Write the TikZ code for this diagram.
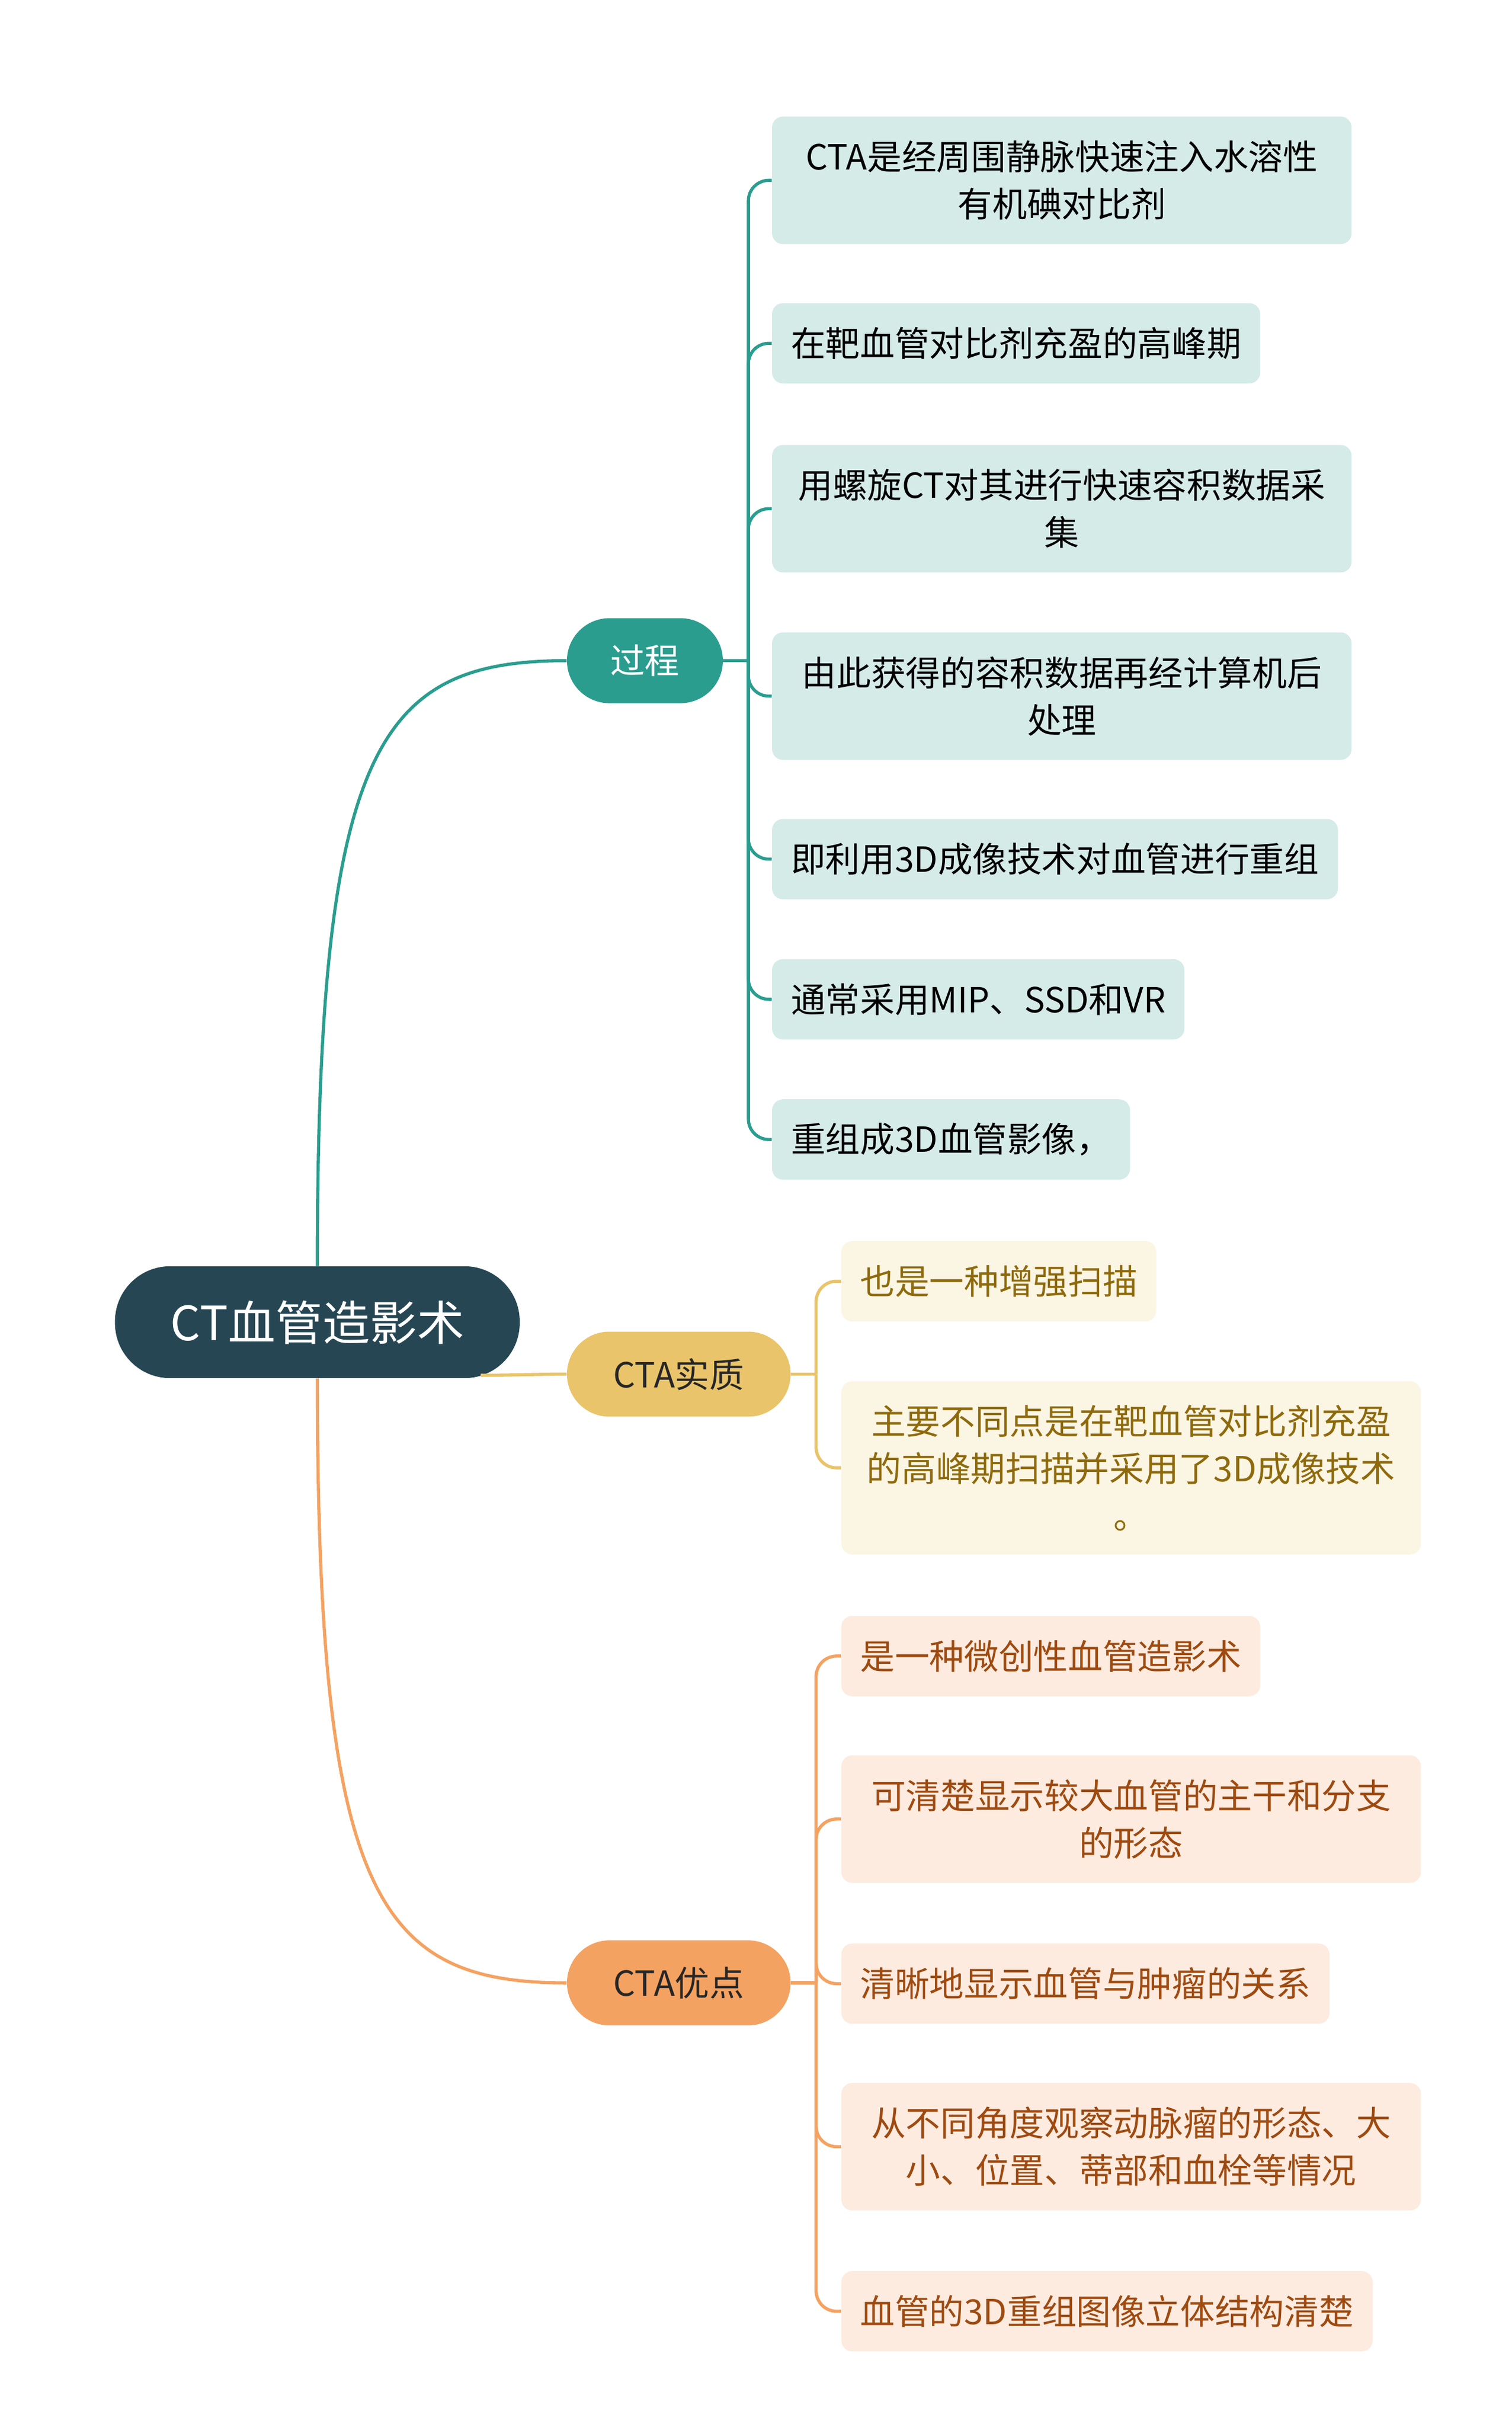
\documentclass[tikz,border=0pt]{standalone}
\usepackage{fontspec}
\setmainfont{Noto Sans CJK SC}
\definecolor{rootc}{HTML}{264653}
\definecolor{tealc}{HTML}{2A9D8F}
\definecolor{ylwc}{HTML}{E9C46A}
\definecolor{orgc}{HTML}{F4A261}
\definecolor{tealbg}{HTML}{D5EBE8}
\definecolor{ylwbg}{HTML}{FBF5E3}
\definecolor{orgbg}{HTML}{FDEBDF}
\definecolor{ylwtx}{HTML}{8E6A0C}
\definecolor{orgtx}{HTML}{9E4A10}
\tikzset{
  topic/.style={rounded corners=27pt,minimum height=54pt,font=\fontsize{22}{30}\selectfont},
  leaf/.style={anchor=west,rounded corners=7pt,inner xsep=12pt,minimum height=51pt,align=center,font=\fontsize{22}{30}\selectfont},
  wide/.style={text width=344pt,inner xsep=12pt},
  link/.style={line width=2pt}
}
\begin{document}
\begin{tikzpicture}[x=1pt,y=-1pt]
  \useasboundingbox (0,0) rectangle (960,1541);

  \node[fill=rootc,text=white,rounded corners=35pt,minimum width=257pt,minimum height=71pt,font=\fontsize{30}{36}\selectfont] (root) at (201.5,839.5) {CT血管造影术};

  \node[topic,fill=tealc,text=white,minimum width=99pt] (gc) at (409.5,419.5) {过程};
  \node[topic,fill=ylwc,text=black!85,minimum width=142pt] (sz) at (431,872.5) {CTA实质};
  \node[topic,fill=orgc,text=black!85,minimum width=142pt] (yd) at (431,1259) {CTA优点};

  % 过程
  \node[leaf,wide,fill=tealbg,minimum height=81pt] (g1) at (490,114.5) {CTA是经周围静脉快速注入水溶性\\有机碘对比剂};
  \node[leaf,fill=tealbg] (g2) at (490,218) {在靶血管对比剂充盈的高峰期};
  \node[leaf,wide,fill=tealbg,minimum height=81pt] (g3) at (490,323) {用螺旋CT对其进行快速容积数据采\\集};
  \node[leaf,wide,fill=tealbg,minimum height=81pt] (g4) at (490,442) {由此获得的容积数据再经计算机后\\处理};
  \node[leaf,fill=tealbg] (g5) at (490,545.5) {即利用3D成像技术对血管进行重组};
  \node[leaf,fill=tealbg] (g6) at (490,634.5) {通常采用MIP、SSD和VR};
  \node[leaf,fill=tealbg] (g7) at (490,723.5) {重组成3D血管影像，};

  % CTA实质
  \node[leaf,fill=ylwbg,text=ylwtx] (s1) at (534,813.5) {也是一种增强扫描};
  \node[leaf,wide,fill=ylwbg,text=ylwtx,minimum height=110pt] (s2) at (534,932) {主要不同点是在靶血管对比剂充盈\\的高峰期扫描并采用了3D成像技术\\。};

  % CTA优点
  \node[leaf,fill=orgbg,text=orgtx] (y1) at (534,1051.5) {是一种微创性血管造影术};
  \node[leaf,wide,fill=orgbg,text=orgtx,minimum height=81pt] (y2) at (534,1155) {可清楚显示较大血管的主干和分支\\的形态};
  \node[leaf,fill=orgbg,text=orgtx] (y3) at (534,1259.5) {清晰地显示血管与肿瘤的关系};
  \node[leaf,wide,fill=orgbg,text=orgtx,minimum height=81pt] (y4) at (534,1363) {从不同角度观察动脉瘤的形态、大\\小、位置、蒂部和血栓等情况};
  \node[leaf,fill=orgbg,text=orgtx] (y5) at (534,1467.5) {血管的3D重组图像立体结构清楚};

  % root links
  \coordinate (rc) at ([xshift=-25pt,yshift=2pt]root.south east);
  \draw[link,tealc] (root.north) .. controls +(0,-330) and +(-120,0) .. (gc.west);
  \draw[link,ylwc] (rc) to[out=0,in=180] (sz.west);
  \draw[link,orgc] (root.south) .. controls +(0,330) and +(-120,0) .. (yd.west);

  % brackets
  \path (gc.east) ++(16,0) coordinate (gcb);
  \path (sz.east) ++(16,0) coordinate (szb);
  \path (yd.east) ++(16,0) coordinate (ydb);
  \draw[link,tealc] (gc.east) -- (gcb);
  \draw[link,ylwc] (sz.east) -- (szb);
  \draw[link,orgc] (yd.east) -- (ydb);
  \foreach \n in {g1,g2,g3,g4,g5,g6,g7}
    \draw[link,tealc,rounded corners=13pt] (gcb) |- (\n.west);
  \foreach \n in {s1,s2}
    \draw[link,ylwc,rounded corners=13pt] (szb) |- (\n.west);
  \foreach \n in {y1,y2,y3,y4,y5}
    \draw[link,orgc,rounded corners=13pt] (ydb) |- (\n.west);
\end{tikzpicture}
\end{document}
